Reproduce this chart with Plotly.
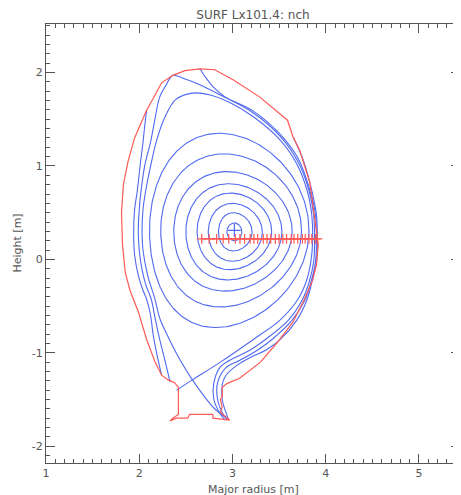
import numpy as np
import plotly.graph_objects as go

# ---------------- data (metres) ----------------
wall_R = [2.65, 2.81, 3.01, 3.29, 3.59, 3.65, 3.72, 3.83, 3.88, 3.92, 3.90, 3.86, 3.77, 3.65,
          3.48, 3.30, 3.08, 2.94, 2.89, 2.89, 2.87, 2.89, 2.87, 2.97, 2.79, 2.79, 2.54, 2.52,
          2.40, 2.33, 2.36, 2.42, 2.42, 2.42, 2.38, 2.31, 2.24, 2.17, 2.08, 1.99, 1.90, 1.85,
          1.82, 1.81, 1.83, 1.88, 1.95, 2.08, 2.17, 2.24, 2.36, 2.49, 2.65]
wall_Z = [2.04, 2.03, 1.92, 1.74, 1.49, 1.31, 1.17, 0.82, 0.45, 0.16, -0.06, -0.22, -0.43, -0.67,
          -0.89, -1.10, -1.27, -1.33, -1.37, -1.47, -1.50, -1.58, -1.64, -1.72, -1.70, -1.66, -1.66, -1.70,
          -1.70, -1.73, -1.70, -1.66, -1.50, -1.37, -1.32, -1.29, -1.24, -1.10, -0.86, -0.56, -0.33, -0.14,
          0.16, 0.50, 0.80, 1.05, 1.30, 1.60, 1.76, 1.89, 1.97, 2.02, 2.04]

# closed flux surfaces: inner / outer midplane radius, top / bottom height, radius at top / bottom
ring_Rin = [2.94, 2.85, 2.74, 2.62, 2.50, 2.37, 2.23, 2.11]
ring_Rout = [3.10, 3.21, 3.32, 3.42, 3.53, 3.64, 3.74, 3.82]
ring_Ztop = [0.39, 0.50, 0.60, 0.71, 0.81, 0.94, 1.13, 1.35]
ring_Zbot = [0.20, 0.09, -0.02, -0.11, -0.22, -0.34, -0.51, -0.73]
ring_Rtop = [3.02, 3.01, 3.00, 2.98, 2.96, 2.94, 2.91, 2.86]
ring_Rbot = [3.02, 3.01, 3.00, 2.97, 2.95, 2.92, 2.87, 2.82]

# separatrix (lower X-point)
sep_R = [2.40, 2.57, 2.87, 3.22, 3.51, 3.70, 3.79, 3.84, 3.86, 3.85, 3.80, 3.68, 3.49, 3.22,
         2.97, 2.76, 2.57, 2.39, 2.27, 2.18, 2.12, 2.07, 2.04, 2.03, 2.04, 2.09, 2.17, 2.22,
         2.31, 2.44, 2.57, 2.70, 2.82, 2.94]
sep_Z = [-1.40, -1.29, -1.10, -0.86, -0.65, -0.43, -0.24, -0.03, 0.21, 0.48, 0.74, 1.04, 1.30, 1.53,
         1.68, 1.76, 1.78, 1.71, 1.51, 1.25, 0.99, 0.74, 0.53, 0.29, 0.10, -0.17, -0.43, -0.63,
         -0.83, -1.08, -1.29, -1.47, -1.61, -1.70]

# scrape-off-layer field lines
solA_R = [2.33, 2.28, 2.22, 2.17, 2.13, 2.07, 2.03, 2.00, 1.99, 2.00, 2.02, 2.06, 2.12, 2.17,
          2.22, 2.29, 2.36, 2.47, 2.65, 2.87, 3.22, 3.51, 3.70, 3.82, 3.87, 3.88, 3.87, 3.82,
          3.75, 3.60, 3.35, 3.19, 2.97, 2.87, 2.80, 2.80, 2.86, 2.91]
solA_Z = [-1.31, -1.10, -0.86, -0.63, -0.43, -0.27, -0.11, 0.10, 0.29, 0.53, 0.74, 1.01, 1.25, 1.51,
          1.74, 1.87, 1.97, 1.94, 1.87, 1.76, 1.57, 1.32, 1.05, 0.74, 0.48, 0.21, -0.03, -0.25,
          -0.43, -0.65, -0.86, -0.97, -1.08, -1.15, -1.32, -1.50, -1.64, -1.71]
solB_R = [2.65, 2.71, 2.79, 2.92, 3.22, 3.51, 3.71, 3.83, 3.89, 3.90, 3.89, 3.84, 3.78, 3.64,
          3.42, 3.27, 3.08, 2.93, 2.84, 2.84, 2.89, 2.94]
solB_Z = [2.04, 1.95, 1.85, 1.74, 1.59, 1.34, 1.07, 0.74, 0.48, 0.21, -0.03, -0.25, -0.43, -0.65,
          -0.86, -0.97, -1.08, -1.16, -1.32, -1.50, -1.64, -1.72]
solC_R = [3.65, 3.76, 3.85, 3.90, 3.91, 3.90, 3.85, 3.80, 3.69, 3.51, 3.36, 3.19, 3.04, 2.93,
          2.89, 2.89, 2.93, 2.96]
solC_Z = [1.31, 1.06, 0.74, 0.48, 0.21, -0.03, -0.25, -0.43, -0.65, -0.86, -0.97, -1.05, -1.14, -1.24,
          -1.34, -1.50, -1.64, -1.72]
solD_R = [2.08, 2.06, 2.04, 2.01, 1.98, 1.95, 1.94, 1.95, 1.99, 2.04, 2.08, 2.12, 2.15, 2.19, 2.24]
solD_Z = [1.60, 1.44, 1.25, 1.01, 0.74, 0.53, 0.29, 0.05, -0.17, -0.33, -0.43, -0.59, -0.81, -1.02, -1.24]

# magnetic axis and profile points on the horizontal chord
axis_R = [3.02]
axis_Z = [0.31]
chord_R = [2.67, 2.75, 2.83, 2.90, 2.96, 3.03, 3.08, 3.13, 3.19, 3.23, 3.27, 3.33, 3.37, 3.41,
           3.46, 3.50, 3.54, 3.58, 3.63, 3.66, 3.70, 3.75, 3.78, 3.82, 3.85, 3.89, 3.91]
chord_Z = [0.22] * len(chord_R)

x_ticks = [1, 2, 3, 4, 5]
y_ticks = [-2, -1, 0, 1, 2]

# ---------------- figure ----------------
BLUE = "rgb(80,105,240)"
RED = "rgb(255,90,85)"
GRAY = "#555555"
FONT = "DejaVu Sans"

fig = go.Figure()


def add_line(R, Z, color, width=1.1, shape="linear"):
    fig.add_trace(go.Scatter(x=R, y=Z, mode="lines",
                             line=dict(color=color, width=width, shape=shape),
                             hoverinfo="skip", showlegend=False))


# closed surfaces built from their read extents (Miller-type D shape)
th = np.linspace(0, 2 * np.pi, 241)
for rin, rout, zt, zb, rt, rb in zip(ring_Rin, ring_Rout, ring_Ztop, ring_Zbot, ring_Rtop, ring_Rbot):
    r0 = 0.5 * (rin + rout)
    a = 0.5 * (rout - rin)
    zc = 0.5 * (zt + zb)
    du = np.arcsin(np.clip((r0 - rt) / a, -0.9, 0.9))
    dl = np.arcsin(np.clip((r0 - rb) / a, -0.9, 0.9))
    upper = np.sin(th) >= 0
    d = np.where(upper, du, dl)
    R = r0 + a * np.cos(th + d * np.sin(th))
    Z = np.where(upper, zc + (zt - zc) * np.sin(th), zc + (zc - zb) * np.sin(th))
    add_line(R, Z, BLUE)

for R, Z in [(sep_R, sep_Z), (solA_R, solA_Z), (solB_R, solB_Z), (solC_R, solC_Z), (solD_R, solD_Z)]:
    add_line(R, Z, BLUE, shape="spline")

add_line(wall_R, wall_Z, RED, width=1.2)

fig.add_trace(go.Scatter(x=chord_R, y=chord_Z, mode="lines+markers",
                         line=dict(color=RED, width=1.2),
                         marker=dict(symbol="cross-thin", size=7, line=dict(color=RED, width=1.2)),
                         hoverinfo="skip", showlegend=False))
fig.add_trace(go.Scatter(x=axis_R, y=axis_Z, mode="markers",
                         marker=dict(symbol="cross-thin", size=9, line=dict(color=BLUE, width=1.2)),
                         hoverinfo="skip", showlegend=False))

axis_common = dict(
    showgrid=False, zeroline=False, showline=True, linecolor=GRAY, linewidth=1,
    mirror="allticks", ticks="inside", ticklen=9, tickwidth=1, tickcolor=GRAY,
    tickfont=dict(family=FONT, size=11, color=GRAY), automargin=False,
    minor=dict(ticks="inside", ticklen=4, tickwidth=1, tickcolor=GRAY, dtick=0.1, showgrid=False),
)

# the page adds an 8 px body margin, so the figure is sized/margined to compensate
W, H = 453, 487
fig.update_layout(
    width=W, height=H,
    margin=dict(l=38, r=1, t=16, b=32),
    paper_bgcolor="white", plot_bgcolor="white",
    font=dict(family=FONT, color=GRAY, size=11),
    title=dict(text="SURF Lx101.4: nch", x=(38 + 452) / 2 / W, xanchor="center",
               y=1 - 7 / H, yanchor="middle", font=dict(family=FONT, size=12, color=GRAY)),
    xaxis=dict(range=[1, 5.44], tickvals=x_ticks, ticktext=[str(v) for v in x_ticks], **axis_common),
    yaxis=dict(range=[-2.18, 2.52], tickvals=y_ticks, ticktext=[str(v) for v in y_ticks], **axis_common),
    annotations=[
        dict(text="Major radius [m]", xref="paper", yref="paper", x=0.5, y=0, yshift=-26,
             showarrow=False, xanchor="center", yanchor="middle",
             font=dict(family=FONT, size=11, color=GRAY)),
        dict(text="Height [m]", xref="paper", yref="paper", x=0, y=0.5, xshift=-29, textangle=-90,
             showarrow=False, xanchor="center", yanchor="middle",
             font=dict(family=FONT, size=11, color=GRAY)),
    ],
)

fig.write_html("out.html")
